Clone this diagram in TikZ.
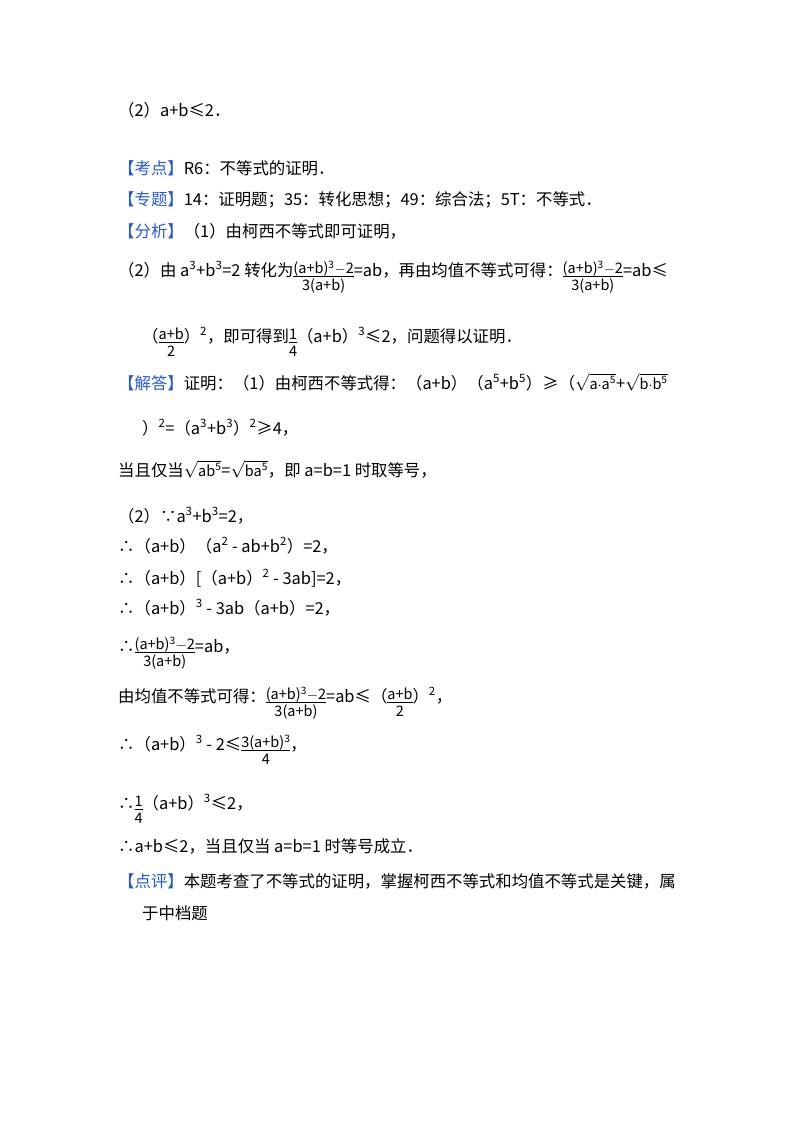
\documentclass[tikz,border=0pt]{standalone}
\usepackage{fontspec}
\setmainfont{Noto Sans CJK SC}
\definecolor{kblue}{RGB}{40,90,200}
\newcommand{\kb}[1]{\textcolor{kblue}{【#1】}}
\newcommand{\fs}{\fontsize{14.5}{16}\selectfont}
\newcommand{\fr}[2]{\raisebox{-0.35\baselineskip}{\begin{tabular}{@{}c@{}}{\fs #1}\\[-3pt]\hline\noalign{\vskip1pt}{\fs #2}\end{tabular}}}
\newcommand{\sq}[1]{$\sqrt{\mbox{\fs #1}}$}
\begin{document}
\begin{tikzpicture}[x=1pt,y=-1pt,every node/.style={anchor=base west,inner sep=0pt,font=\fontsize{16.4}{19}\selectfont}]
\fill[white] (0,0) rectangle (800,1133);
\path[use as bounding box] (0,0) rectangle (800,1133);
\node (l1) at (118,116) {（2）a+b≤2．};
\node (l2) at (118,174) {\kb{考点}R6：不等式的证明．};
\node (l3) at (118,205) {\kb{专题}14：证明题；35：转化思想；49：综合法；5T：不等式．};
\node (l4) at (118,237) {\kb{分析}（1）由柯西不等式即可证明，};
\node (l5) at (118,276) {（2）由 a\textsuperscript{3}+b\textsuperscript{3}=2 转化为\fr{(a+b)\textsuperscript{3}$-$2}{3(a+b)}=ab，再由均值不等式可得：\fr{(a+b)\textsuperscript{3}$-$2}{3(a+b)}=ab≤};
\node (l6) at (142,342) {（\fr{a+b}{2}）\textsuperscript{2}，即可得到\fr{1}{4}（a+b）\textsuperscript{3}≤2，问题得以证明．};
\node (l7) at (118,389) {\kb{解答}证明：（1）由柯西不等式得：（a+b）（a\textsuperscript{5}+b\textsuperscript{5}）≥（\sq{a$\cdot$a\textsuperscript{5}}+\sq{b$\cdot$b\textsuperscript{5}}};
\node (l8) at (142,434) {）\textsuperscript{2}=（a\textsuperscript{3}+b\textsuperscript{3}）\textsuperscript{2}≥4，};
\node (l9) at (118,476) {当且仅当\sq{ab\textsuperscript{5}}=\sq{ba\textsuperscript{5}}，即 a=b=1 时取等号，};
\node (l10) at (118,522) {（2）∵a\textsuperscript{3}+b\textsuperscript{3}=2，};
\node (l11) at (118,552) {∴（a+b）（a\textsuperscript{2} - ab+b\textsuperscript{2}）=2，};
\node (l12) at (118,584) {∴（a+b）[（a+b）\textsuperscript{2} - 3ab]=2，};
\node (l13) at (118,614) {∴（a+b）\textsuperscript{3} - 3ab（a+b）=2，};
\node (l14) at (118,652) {∴\fr{(a+b)\textsuperscript{3}$-$2}{3(a+b)}=ab，};
\node (l15) at (118,702) {由均值不等式可得：\fr{(a+b)\textsuperscript{3}$-$2}{3(a+b)}=ab≤（\fr{a+b}{2}）\textsuperscript{2}，};
\node (l16) at (118,750) {∴（a+b）\textsuperscript{3} - 2≤\fr{3(a+b)\textsuperscript{3}}{4}，};
\node (l17) at (118,809) {∴\fr{1}{4}（a+b）\textsuperscript{3}≤2，};
\node (l18) at (118,852) {∴a+b≤2，当且仅当 a=b=1 时等号成立．};
\node (l19) at (118,887) {\kb{点评}本题考查了不等式的证明，掌握柯西不等式和均值不等式是关键，属};
\node (l20) at (142,919) {于中档题};
\end{tikzpicture}
\end{document}
